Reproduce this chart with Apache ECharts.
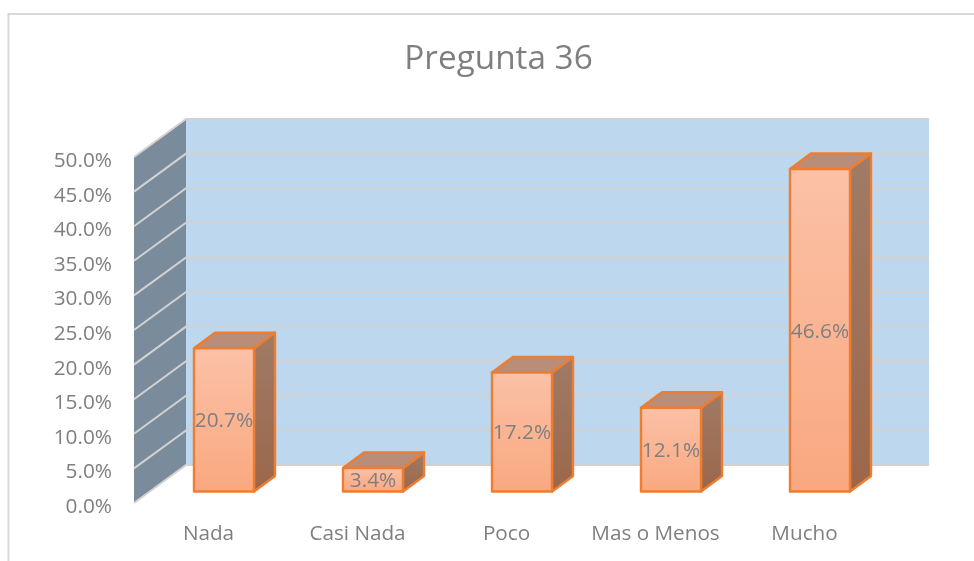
<!DOCTYPE html>
<html><head><meta charset="utf-8">
<style>html,body{margin:0;padding:0;background:#fff}#c{width:974px;height:561px}</style>
<script src="https://cdn.jsdelivr.net/npm/echarts@6/dist/echarts.min.js"></script>
</head><body><div id="c"></div>
<script>
const title = 'Pregunta 36';
const categories = ['Nada', 'Casi Nada', 'Poco', 'Mas o Menos', 'Mucho'];
const values = [20.7, 3.4, 17.2, 12.1, 46.6];
const gridValues = [0, 5, 10, 15, 20, 25, 30, 35, 40, 45, 50];

const FONT = '"Open Sans", "Noto Sans", sans-serif';
const TEXT = '#7f7f7f';
const WALL_DX = 52, WALL_DY = -38;      // axis plane -> back wall
const BAR_DX = 15.5, BAR_DY = -11.5;    // axis plane -> bar front face
const DEPTH_DX = 21, DEPTH_DY = -15.5;  // bar depth
const BAR_W = 60;
const WALL_TRIM = 2;

const chart = echarts.init(document.getElementById('c'), null, {renderer: 'canvas'});

function extents(api) {
  const half = api.size([1, 0])[0] / 2;
  return {left: api.coord([0, 0])[0] - half, right: api.coord([categories.length - 1, 0])[0] + half};
}
function grad(a, b) {
  return new echarts.graphic.LinearGradient(0, 0, 0, 1, [{offset: 0, color: a}, {offset: 1, color: b}]);
}
function renderWalls(params, api) {
  const e = extents(api);
  const y0 = api.coord([0, 0])[1], y1 = api.coord([0, 50])[1];
  return {type: 'group', children: [
    {type: 'polygon', shape: {points: [
      [e.left, y0], [e.left + WALL_DX, y0 + WALL_DY], [e.left + WALL_DX, y1 + WALL_DY], [e.left, y1]
    ]}, style: {fill: '#7a8b9c'}},
    {type: 'rect', shape: {x: e.left + WALL_DX, y: y1 + WALL_DY, width: e.right - WALL_TRIM - e.left, height: y0 - y1},
      style: {fill: '#bdd7ee'}}
  ]};
}
function renderGrid(params, api) {
  const e = extents(api);
  const y = api.coord([0, api.value(1)])[1];
  return {type: 'polyline', shape: {points: [
    [e.left, y], [e.left + WALL_DX, y + WALL_DY], [e.right + WALL_DX - WALL_TRIM, y + WALL_DY]
  ]}, style: {fill: null, stroke: '#d2d2d2', lineWidth: 2}};
}
function renderBar(params, api) {
  const p = api.coord([api.value(0), api.value(1)]);
  const b = api.coord([api.value(0), 0]);
  const l = p[0] + BAR_DX - BAR_W / 2, r = l + BAR_W;
  const t = p[1] + BAR_DY, bt = b[1] + BAR_DY;
  const stroke = {stroke: '#ed7d31', lineWidth: 2.4, lineJoin: 'round'};
  return {type: 'group', children: [
    {type: 'polygon', shape: {points: [[r, t], [r + DEPTH_DX, t + DEPTH_DY], [r + DEPTH_DX, bt + DEPTH_DY], [r, bt]]},
      style: Object.assign({fill: grad('#a07b66', '#9b674b')}, stroke)},
    {type: 'polygon', shape: {points: [[l, t], [l + DEPTH_DX, t + DEPTH_DY], [r + DEPTH_DX, t + DEPTH_DY], [r, t]]},
      style: Object.assign({fill: '#ba8d78'}, stroke)},
    {type: 'rect', shape: {x: l, y: t, width: BAR_W, height: bt - t},
      style: Object.assign({fill: grad('#fbc1a7', '#f9a87f')}, stroke)},
    {type: 'text', style: {x: (l + r) / 2, y: (t + bt) / 2 + 1.5, text: api.value(1).toFixed(1) + '%',
      fill: TEXT, font: '20.8px ' + FONT, align: 'center', verticalAlign: 'middle'}}
  ]};
}

chart.setOption({
  animation: false,
  backgroundColor: '#fff',
  title: {text: title, left: 493.5, top: 38, textAlign: 'center',
    textStyle: {fontFamily: FONT, fontSize: 33.3, fontWeight: 'normal', color: TEXT}},
  graphic: [{type: 'polyline', silent: true, z: 0,
    shape: {points: [[8.5, 561], [8.5, 14], [974, 14]]},
    style: {fill: null, stroke: '#d9d9d9', lineWidth: 2}}],
  grid: {left: 134, right: 95, top: 157, bottom: 58, containLabel: false},
  xAxis: {type: 'category', data: categories,
    axisLine: {show: false}, axisTick: {show: false}, splitLine: {show: false},
    axisLabel: {margin: 21, interval: 0, color: TEXT, fontFamily: FONT, fontSize: 20.7}},
  yAxis: {type: 'value', min: 0, max: 50, interval: 5,
    axisLine: {show: false}, axisTick: {show: false}, splitLine: {show: false},
    axisLabel: {margin: 22, verticalAlign: 'top', lineHeight: 8, color: TEXT, fontFamily: FONT, fontSize: 20.8, formatter: v => v.toFixed(1) + '%'}},
  series: [
    {type: 'custom', name: 'walls', z: 1, clip: false, silent: true, renderItem: renderWalls, data: [[0, 50]]},
    {type: 'custom', name: 'grid', z: 2, clip: false, silent: true, renderItem: renderGrid, data: gridValues.map(v => [0, v])},
    {type: 'custom', name: 'Pregunta 36', z: 3, clip: false, renderItem: renderBar, data: values.map((v, i) => [i, v])}
  ]
});
</script></body></html>
